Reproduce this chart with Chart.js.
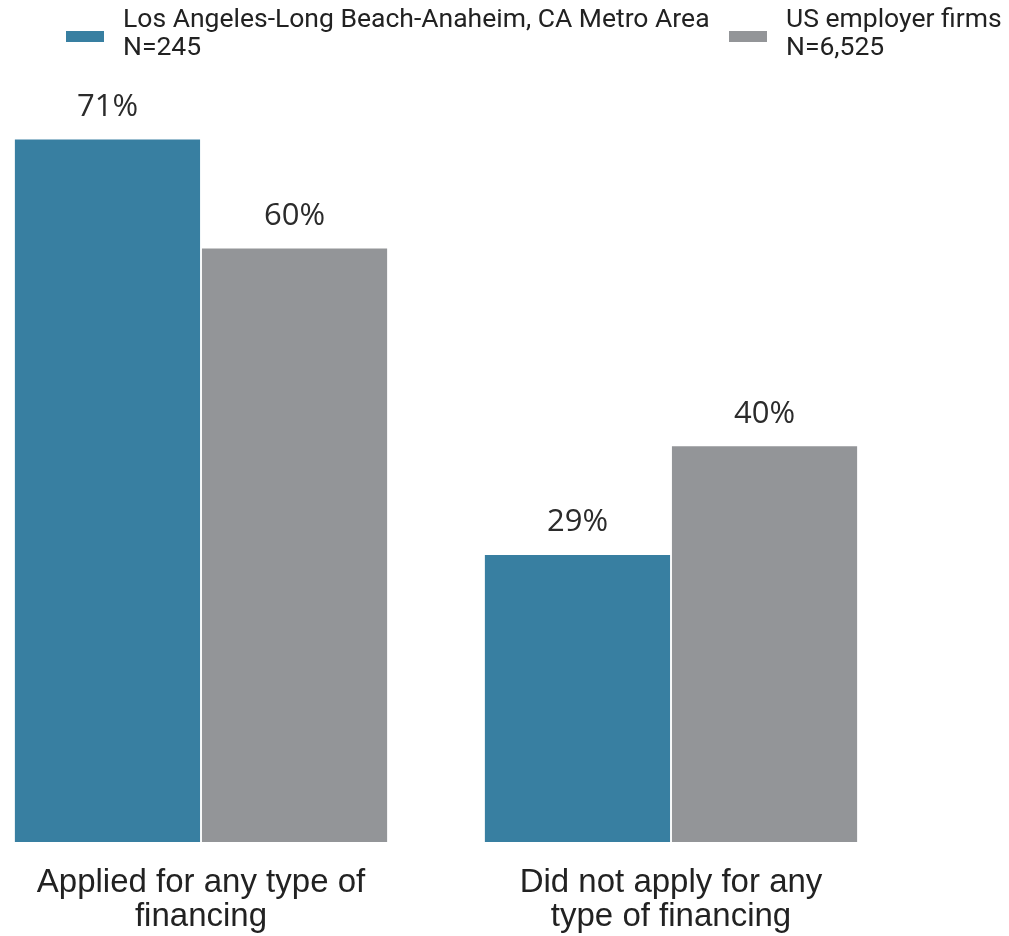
<!DOCTYPE html>
<html>
<head>
<meta charset="utf-8">
<script src="https://cdn.jsdelivr.net/npm/chart.js@4/dist/chart.umd.min.js"></script>
<style>
  body { margin: 0; background: #fff; }
  .wrap { position: relative; width: 1009px; height: 936px; }
  #finChart { position: absolute; left: 0; top: 0; }
  .legend { position: absolute; top: 4px; font-family: Roboto, sans-serif; font-size: 26.5px; line-height: 28px; color: #222; }
  .legend .box { position: absolute; left: 0; top: 27px; width: 38px; height: 11px; }
  .legend .txt { position: absolute; left: 57px; top: 0; white-space: nowrap; }
</style>
</head>
<body>
<div class="wrap">
  <canvas id="finChart" width="1009" height="936"></canvas>
  <div class="legend" id="leg0" style="left:66px"><div class="box"></div><div class="txt"></div></div>
  <div class="legend" id="leg1" style="left:729px"><div class="box"></div><div class="txt"></div></div>
</div>

<script>
const categories = [
  ['Applied for any type of', 'financing'],
  ['Did not apply for any', 'type of financing']
];
const seriesNames = ['Los Angeles-Long Beach-Anaheim, CA Metro Area', 'US employer firms'];
const sampleSizes = ['N=245', 'N=6,525'];
const laValues = [71, 29];
const usValues = [60, 40];
const colors = ['#387fa1', '#939598'];

// legend as html (two-line labels)
[0, 1].forEach(function(i) {
    const el = document.getElementById('leg' + i);
    el.querySelector('.box').style.background = colors[i];
    el.querySelector('.txt').innerHTML = seriesNames[i] + '<br>' + sampleSizes[i];
});

const valueLabels = {
    id: 'valueLabels',
    afterDatasetsDraw(chart) {
        const ctx = chart.ctx;
        ctx.save();
        ctx.font = '31px "Open Sans", sans-serif';
        ctx.fillStyle = '#2b2b2b';
        ctx.textAlign = 'center';
        ctx.textBaseline = 'bottom';
        chart.data.datasets.forEach(function(ds, di) {
            chart.getDatasetMeta(di).data.forEach(function(bar, i) {
                ctx.fillText(ds.data[i] + '%', bar.x, bar.y - 17);
            });
        });
        ctx.restore();
    }
};

document.addEventListener("DOMContentLoaded", function() {
    const ctx = document.getElementById('finChart').getContext('2d');

    const finChart = new Chart(ctx, {
        type: 'bar',
        data: {
            labels: categories,
            datasets: [{
                label: seriesNames[0],
                data: laValues,
                backgroundColor: colors[0],
                categoryPercentage: 0.796,
                barPercentage: 0.99,
                clip: false
            }, {
                label: seriesNames[1],
                data: usValues,
                backgroundColor: colors[1],
                categoryPercentage: 0.796,
                barPercentage: 0.99,
                clip: false
            }]
        },
        options: {
            responsive: false,
            animation: false,
            layout: {
                padding: { left: 201, right: 338, top: 100, bottom: -22 }
            },
            scales: {
                x: {
                    offset: false,
                    grid: { display: false, drawTicks: false },
                    border: { display: false },
                    ticks: {
                        maxRotation: 0,
                        autoSkip: false,
                        padding: 24,
                        color: '#222',
                        font: { family: '"Liberation Sans", sans-serif', size: 33, lineHeight: 1.03 }
                    }
                },
                y: {
                    display: false,
                    beginAtZero: true,
                    min: 0,
                    max: 75
                }
            },
            plugins: {
                legend: { display: false },
                tooltip: { enabled: false }
            }
        },
        plugins: [valueLabels]
    });
});
</script>
</body>
</html>
